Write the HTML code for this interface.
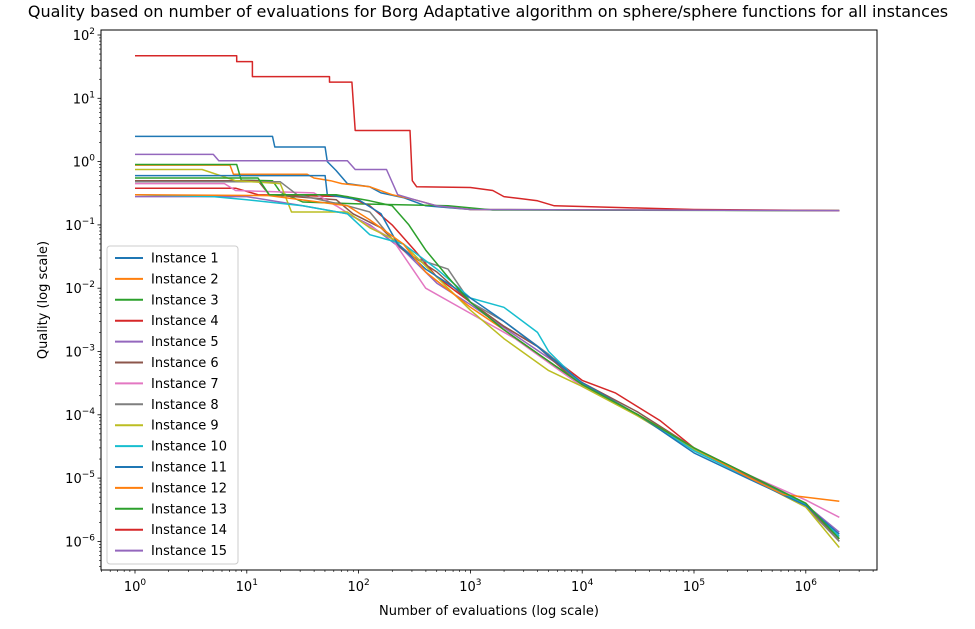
<!DOCTYPE html>
<html><head><meta charset="utf-8"><style>
body{margin:0;background:#fff;}
svg{display:block;font-family:"DejaVu Sans","Liberation Sans",sans-serif;}
</style></head><body>
<svg id="chart" width="975" height="629"></svg>
<script>
const instanceNames = ["Instance 1","Instance 2","Instance 3","Instance 4","Instance 5","Instance 6","Instance 7","Instance 8","Instance 9","Instance 10","Instance 11","Instance 12","Instance 13","Instance 14","Instance 15"];
const colors = ["#1f77b4","#ff7f0e","#2ca02c","#d62728","#9467bd","#8c564b","#e377c2","#7f7f7f","#bcbd22","#17becf","#1f77b4","#ff7f0e","#2ca02c","#d62728","#9467bd"];
const xTickExps = [0,1,2,3,4,5,6];
const yTickExps = [2,1,0,-1,-2,-3,-4,-5,-6];
// each point: [log10(evaluations), quality]
const s1 = [[0,2.5],[1.23,2.5],[1.25,1.7],[1.7,1.7],[1.72,1.0],[1.8,0.72],[1.9,0.45],[2.1,0.4],[2.2,0.32],[2.4,0.27],[2.6,0.2],[3,0.175],[6.3,0.168]];
const s2 = [[0,0.88],[0.85,0.88],[0.88,0.63],[1.54,0.63],[1.6,0.55],[1.75,0.5],[1.85,0.45],[2.1,0.4],[2.3,0.3],[2.5,0.25],[2.7,0.2],[3,0.175],[6.3,0.168]];
const s3 = [[0,0.9],[0.91,0.9],[0.95,0.51],[1.23,0.5],[1.3,0.33],[1.5,0.23],[2,0.215],[2.8,0.2],[3.2,0.172],[6.3,0.168]];
const s4 = [[0,0.38],[0.9,0.38],[1.1,0.3],[1.9,0.28],[2.1,0.2],[2.3,0.1],[2.5,0.04],[2.7,0.015],[3,0.006],[3.3,0.0025],[3.6,0.0012],[4,0.00035],[4.3,0.00022],[4.7,0.00008],[5,0.00003],[5.5,0.000011],[6,0.000004],[6.3,0.0000011]];
const s5 = [[0,0.28],[1.0,0.28],[1.5,0.2],[1.9,0.15],[2.1,0.1],[2.4,0.04],[2.7,0.012],[3,0.0055],[3.4,0.0018],[3.8,0.0006],[4,0.0003],[4.5,0.0001],[5,0.000028],[5.5,0.00001],[6,0.0000038],[6.3,0.0000014]];
const s6 = [[0,0.5],[1.1,0.5],[1.2,0.3],[1.8,0.25],[1.95,0.15],[2.2,0.09],[2.4,0.04],[2.7,0.018],[3,0.006],[3.3,0.0025],[3.6,0.0012],[3.9,0.0004],[4.5,0.00011],[5,0.00003],[5.5,0.0000105],[6,0.0000038],[6.3,0.000001]];
const s7 = [[0,0.45],[0.8,0.45],[0.9,0.35],[1.6,0.32],[1.8,0.2],[2,0.12],[2.3,0.06],[2.6,0.01],[3,0.004],[3.4,0.0016],[3.8,0.0005],[4,0.00028],[4.5,0.0001],[5,0.00003],[5.5,0.000011],[6,0.0000045],[6.3,0.0000024]];
const s8 = [[0,0.48],[1.3,0.48],[1.45,0.3],[1.9,0.2],[2.1,0.16],[2.3,0.06],[2.5,0.03],[2.8,0.02],[3,0.006],[3.3,0.003],[3.7,0.0009],[4,0.0003],[4.5,0.0001],[5,0.00003],[5.5,0.00001],[6,0.0000035],[6.3,0.000001]];
const s9 = [[0,0.75],[0.6,0.75],[0.9,0.5],[1.3,0.45],[1.4,0.16],[1.9,0.16],[2.1,0.09],[2.4,0.05],[2.7,0.015],[3,0.0045],[3.3,0.0016],[3.7,0.0005],[4,0.00028],[4.5,0.000095],[5,0.000028],[5.5,0.00001],[6,0.0000035],[6.3,0.0000008]];
const s10 = [[0,0.3],[0.7,0.28],[1,0.25],[1.5,0.2],[1.9,0.15],[2.1,0.07],[2.4,0.05],[2.7,0.02],[3,0.007],[3.3,0.005],[3.6,0.002],[3.7,0.001],[4,0.0003],[4.5,0.0001],[5,0.000027],[5.5,0.00001],[6,0.0000038],[6.3,0.0000012]];
const s11 = [[0,0.6],[1.7,0.6],[1.72,0.3],[2,0.25],[2.2,0.15],[2.35,0.05],[2.6,0.02],[3,0.007],[3.3,0.003],[3.6,0.0012],[4,0.00032],[4.5,0.0001],[5,0.000025],[5.5,0.0000095],[6,0.0000037],[6.3,0.0000013]];
const s12 = [[0,0.3],[1.2,0.29],[1.9,0.2],[2.1,0.12],[2.4,0.05],[2.6,0.018],[3,0.005],[3.3,0.0022],[3.7,0.0007],[4,0.0003],[4.5,0.0001],[5,0.00003],[5.5,0.00001],[5.8,0.0000055],[6.3,0.0000043]];
const s13 = [[0,0.55],[1.1,0.55],[1.2,0.3],[1.8,0.3],[2.1,0.24],[2.3,0.2],[2.45,0.1],[2.6,0.04],[2.8,0.015],[3,0.006],[3.3,0.0022],[3.7,0.0007],[4,0.0003],[4.5,0.0001],[5,0.00003],[5.5,0.000011],[6,0.000004],[6.3,0.0000011]];
const s14 = [[0,47],[0.91,47],[0.91,38],[1.05,38],[1.05,22],[1.74,22],[1.74,18],[1.94,18],[1.97,3.1],[2.46,3.1],[2.48,0.5],[2.52,0.4],[3.0,0.39],[3.2,0.35],[3.3,0.28],[3.45,0.26],[3.6,0.24],[3.75,0.2],[4.0,0.195],[4.5,0.185],[5,0.175],[6.3,0.168]];
const s15 = [[0,1.3],[0.7,1.3],[0.75,1.03],[1.9,1.03],[1.97,0.75],[2.25,0.75],[2.35,0.3],[2.5,0.25],[2.7,0.2],[3,0.175],[6.3,0.168]];
const allSeries = [s1,s2,s3,s4,s5,s6,s7,s8,s9,s10,s11,s12,s13,s14,s15];

const NS="http://www.w3.org/2000/svg";
const svg=document.getElementById('chart');
const L=101,R=877,T=30,B=570;
const X0=135,XD=111.8,Y2=35,YD=63.3;
const xs=lx=>X0+lx*XD;
const ys=v=>Y2+(2-Math.log10(v))*YD;
function mk(tag,attrs,parent){const e=document.createElementNS(NS,tag);for(const k in attrs)e.setAttribute(k,attrs[k]);(parent||svg).appendChild(e);return e;}

const title=mk('text',{x:488,y:17,'text-anchor':'middle','font-size':'16'});
title.textContent='Quality based on number of evaluations for Borg Adaptative algorithm on sphere/sphere functions for all instances';



const plot=mk('g',{});


const clip=mk('clipPath',{id:'cp'});mk('rect',{x:L,y:T,width:R-L,height:B-T},clip);
const lines=mk('g',{'clip-path':'url(#cp)'},plot);
allSeries.forEach((s,i)=>{
  const d=s.map((p,j)=>(j?'L':'M')+xs(p[0]).toFixed(1)+','+ys(p[1]).toFixed(1)).join('');
  const p=mk('path',{d:d,fill:'none',stroke:colors[i],'stroke-width':1.5,'stroke-linejoin':'round'},lines);
  
  
});
mk('rect',{x:L,y:T,width:R-L,height:B-T,fill:'none',stroke:'#000','stroke-width':1},plot);

// x ticks
const xAxis=mk('g',{});


for(let e=-1;e<=6;e++){for(let m=1;m<10;m++){const lx=e+Math.log10(m);const px=xs(lx);if(px<L||px>R)continue;
  mk('line',{x1:px,x2:px,y1:B,y2:B+(m==1?3.5:2),stroke:'#000','stroke-width':m==1?0.8:0.6},xAxis);}}
xTickExps.forEach(e=>{const t=mk('text',{x:xs(e),y:B+21,'text-anchor':'middle','font-size':'13'},xAxis);
  t.textContent='10';const s=mk('tspan',{dy:-6,'font-size':'9'},t);s.textContent=String(e);
  });
const xt=mk('text',{x:489,y:615,'text-anchor':'middle','font-size':'13'},xAxis);xt.textContent='Number of evaluations (log scale)';


// y ticks
const yAxis=mk('g',{});


for(let e=-7;e<=2;e++){for(let m=1;m<10;m++){const v=m*Math.pow(10,e);const py=ys(v);if(py<T||py>B)continue;
  mk('line',{x1:L,x2:L-(m==1?3.5:2),y1:py,y2:py,stroke:'#000','stroke-width':m==1?0.8:0.6},yAxis);}}
yTickExps.forEach(e=>{const t=mk('text',{x:L-6,y:ys(Math.pow(10,e))+5,'text-anchor':'end','font-size':'13'},yAxis);
  t.textContent='10';const s=mk('tspan',{dy:-6,'font-size':'9'},t);s.textContent=e<0?'\u2212'+(-e):String(e);
  });
const yt=mk('text',{x:47,y:300,'text-anchor':'middle','font-size':'13',transform:'rotate(-90 47 300)'},yAxis);yt.textContent='Quality (log scale)';


// legend
const leg=mk('g',{});


mk('rect',{x:107,y:246,width:131,height:318,rx:3,fill:'#fff','fill-opacity':0.8,stroke:'#ccc'},leg);
instanceNames.forEach((n,i)=>{const y=258+i*20.9;
  const g=mk('g',{},leg);
  
  
  mk('line',{x1:115,x2:143,y1:y,y2:y,stroke:colors[i],'stroke-width':2},g);
  const t=mk('text',{x:151,y:y+4.5,'font-size':'13'},g);t.textContent=n;});
</script>
</body></html>
